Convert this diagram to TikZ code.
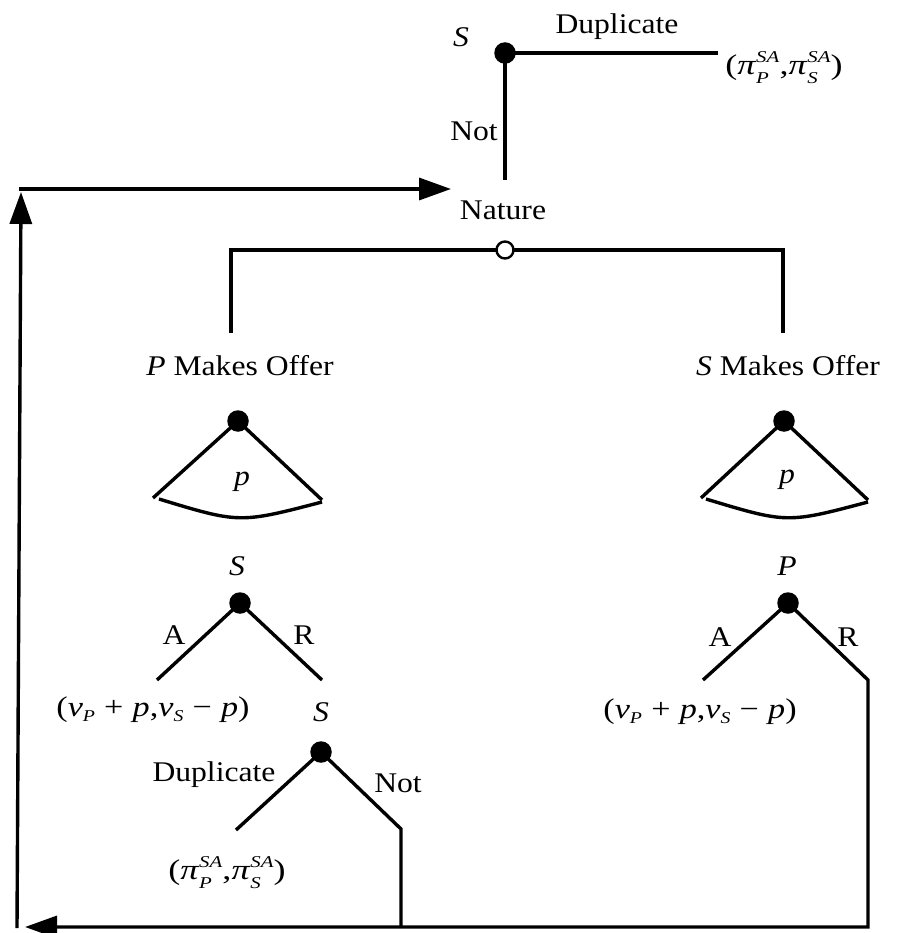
\documentclass[tikz,border=0pt]{standalone}
\usepackage{fontspec}
\usepackage{graphicx}
\setmainfont{Liberation Serif}[FakeStretch=1.11]
\usetikzlibrary{arrows.meta}
\newcommand\scr{\fontsize{16.5}{16.5}\selectfont}
\newcommand\sbsp[2]{{\scr\setbox0\hbox{\textit{#1}}\setbox2\hbox{\textit{#2}}%
  \dimen0=\wd0 \ifdim\wd2>\dimen0 \dimen0=\wd2 \fi
  \hbox to\dimen0{\rlap{\raise12pt\box0}\lower9pt\box2\hss}}}
\newcommand\sbs[1]{\lower5pt\hbox{\scr\textit{#1}}}
\newcommand\payA{\scalebox{1.08}[1]{(\textit{v}\sbs{P}\hspace{0.3em}+\hspace{0.3em}\textit{p},\textit{v}\sbs{S}\hspace{0.3em}−\hspace{0.3em}\textit{p})}}
\newcommand\payD{\scalebox{1.14}[1]{(\textit{π}\sbsp{SA}{P},\textit{π}\sbsp{SA}{S})}}
\begin{document}
\begin{tikzpicture}[x=1pt,y=-1pt,line width=3.4pt,
  lbl/.style={inner sep=0pt,font=\fontsize{28.5}{31}\selectfont},
  dot/.style={circle,fill=black,inner sep=0pt,minimum size=21.5pt},
  chance/.style={circle,draw=black,fill=white,line width=2.4pt,inner sep=0pt,minimum size=17pt},
  arr/.style={-{Triangle[length=32pt,width=22pt]}}]
\useasboundingbox (0,0) rectangle (900,933);
% top decision
\node[dot] (s0) at (505,53) {};
\node[lbl,anchor=base] (s0lbl) at (461,47) {\textit{S}};
\node[lbl,anchor=base] (dup0) at (617,34) {Duplicate};
\node[lbl] (pay0) at (784,68) {\payD};
\coordinate (d0end) at (718,53);
\node[lbl,anchor=base] (not0) at (474,141) {Not};
\coordinate (n0end) at (505,180);
\draw (s0.center) -- (d0end);
\draw (s0.center) -- (n0end);
% nature
\node[lbl,anchor=base] (natlbl) at (503,220) {Nature};
\coordinate (natL) at (231,333);
\coordinate (natR) at (783,333);
\draw (natL) |- (505,250) -| (natR);
\node[chance] (nat) at (505,250) {};
\node[lbl,anchor=base] (pmo) at (240,375) {\textit{P} Makes Offer};
\node[lbl,anchor=base] (smo) at (788,375) {\textit{S} Makes Offer};
% loop arrows
\coordinate (la) at (19,189);
\coordinate (lat) at (451,189);
\draw[arr] (la) -- (lat);
\coordinate (lb) at (17,928);
\coordinate (lt) at (21,192);
\draw[arr] (lb) -- (lt);
% left offer
\node[dot] (po) at (238,421) {};
\coordinate (poL) at (153,498);
\coordinate (poR) at (322,500);
\draw (po.center) -- (poL);
\draw (po.center) -- (poR);
\coordinate (paL) at (159,499);
\coordinate (paR) at (322,502);
\draw (paL) .. controls (239.5,523.5) .. (paR);
\node[lbl] (pp) at (242,482) {\textit{p}};
% left response
\node[lbl] (slbl1) at (237,566) {\textit{S}};
\node[dot] (sd1) at (240,603) {};
\coordinate (aL1) at (157,680);
\coordinate (rR1) at (322,680);
\draw (sd1.center) -- (aL1);
\draw (sd1.center) -- (rR1);
\node[lbl] (A1) at (174,635) {A};
\node[lbl] (R1) at (304,635) {R};
\node[lbl] (pay1) at (153,710) {\payA};
% left duplicate decision
\node[lbl] (slbl2) at (321,712) {\textit{S}};
\node[dot] (sd2) at (321,752) {};
\coordinate (dL2) at (236,830);
\coordinate (nR2) at (401,829);
\coordinate (nB2) at (401,927);
\draw (sd2.center) -- (dL2);
\draw (sd2.center) -- (nR2) -- (nB2);
\node[lbl] (dup2) at (214,775) {Duplicate};
\node[lbl] (not2) at (398,783) {Not};
\node[lbl] (pay2) at (227,873) {\payD};
% right offer
\node[dot] (so) at (784,421) {};
\coordinate (soL) at (701,498);
\coordinate (soR) at (868,500);
\draw (so.center) -- (soL);
\draw (so.center) -- (soR);
\coordinate (saL) at (706,499);
\coordinate (saR) at (868,502);
\draw (saL) .. controls (787,523.5) .. (saR);
\node[lbl] (sp) at (787,480) {\textit{p}};
% right response
\node[lbl] (plbl) at (787,566) {\textit{P}};
\node[dot] (pd) at (788,603) {};
\coordinate (aL3) at (703,680);
\coordinate (rR3) at (868,680);
\coordinate (rB3) at (868,927);
\coordinate (bt) at (25,927);
\draw (pd.center) -- (aL3);
\draw[arr] (pd.center) -- (rR3) -- (rB3) -- (bt);
\node[lbl] (A3) at (720,637) {A};
\node[lbl] (R3) at (848,637) {R};
\node[lbl] (pay3) at (700,712) {\payA};
\end{tikzpicture}
\end{document}
